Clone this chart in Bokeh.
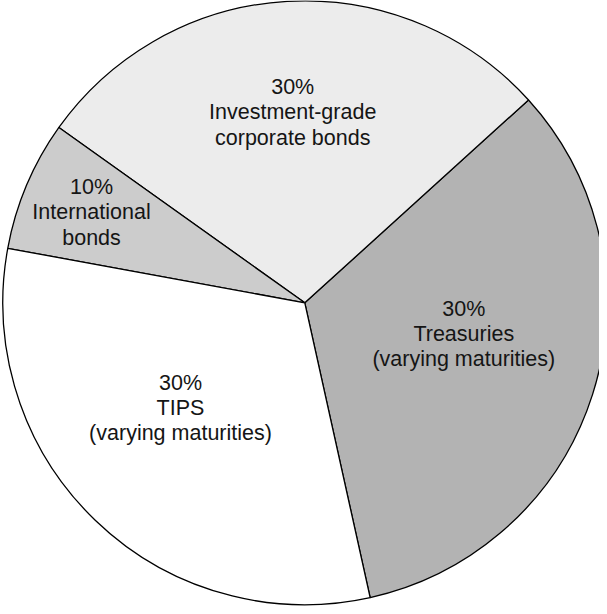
import math
from bokeh.plotting import figure
from bokeh.models import Range1d, ColumnDataSource
from bokeh.core.properties import value
from bokeh.embed import file_html
from bokeh.resources import INLINE

# ---- data ----
categories = ["Treasuries", "Investment-grade corporate bonds", "International bonds", "TIPS"]
percent_labels = ["30%", "30%", "10%", "30%"]
# share of the circle each slice occupies as drawn in the picture (%)
drawn_share = [33.25, 28.42, 6.97, 31.36]
label_lines = [
    ["30%", "Treasuries", "(varying maturities)"],
    ["30%", "Investment-grade", "corporate bonds"],
    ["10%", "International", "bonds"],
    ["30%", "TIPS", "(varying maturities)"],
]
colors = ["#b3b3b3", "#ececec", "#cccccc", "#ffffff"]

# ---- layout ----
W, H = 599, 606
cx, cy, R = 304.3, 303.7, 302
start_deg = -77.5
baseline_fix = 8.0  # svg backend draws the alphabetic baseline lower
label_anchor = [  # (x, first baseline y) in data coords
    (463.3, 614 - 324.3 + baseline_fix),
    (292.2, 614 - 102.7 + baseline_fix),
    (91.0, 614 - 202.7 + baseline_fix),
    (180.0, 614 - 398.3 + baseline_fix),
]
line_step = 25.2

starts, ends = [], []
a = math.radians(start_deg)
for s in drawn_share:
    starts.append(a)
    a += s / 100 * 2 * math.pi
    ends.append(a)

src = ColumnDataSource(dict(cat=categories, start=starts, end=ends, color=colors,
                            x=[cx] * 4, y=[cy] * 4))

p = figure(width=W, height=H, output_backend="svg", toolbar_location=None,
           x_range=Range1d(0, W), y_range=Range1d(0, H), min_border=0)
p.axis.visible = False
p.grid.visible = False
p.outline_line_color = None
p.background_fill_color = "white"
p.border_fill_color = "white"

p.wedge(x="x", y="y", radius=R, radius_units="screen", start_angle="start", end_angle="end",
        fill_color="color", line_color="black", line_width=1.3, source=src)

tx, ty, tt = [], [], []
for (ax, ay), lines in zip(label_anchor, label_lines):
    for i, t in enumerate(lines):
        tx.append(ax)
        ty.append(ay - i * line_step)
        tt.append(t)

p.text(x=tx, y=ty, text=tt, text_align="center", text_baseline="alphabetic",
       text_font=value("Liberation Sans"), text_font_size="21.5px", text_color="#151515")

open("out.html", "w").write(file_html(p, INLINE))
